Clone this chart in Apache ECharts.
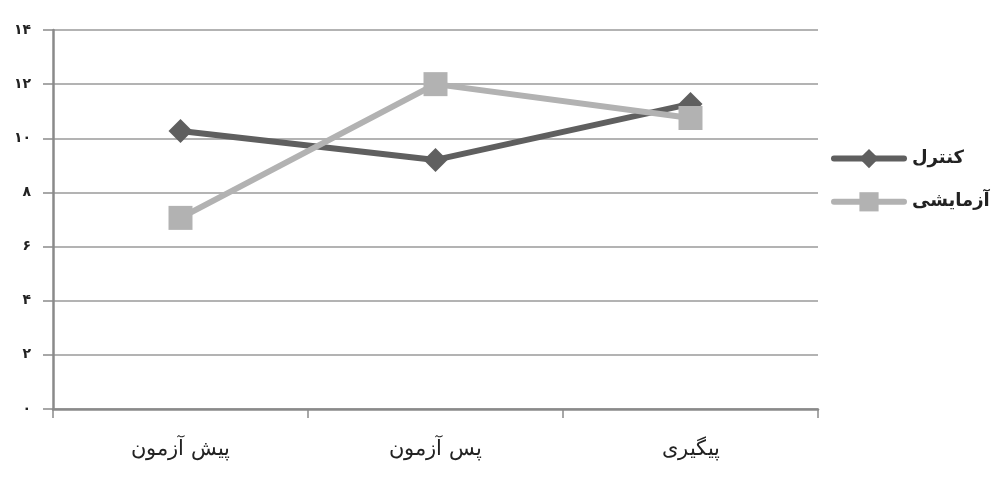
<!DOCTYPE html>
<html>
<head>
<meta charset="utf-8">
<script src="https://cdn.jsdelivr.net/npm/echarts@6/dist/echarts.min.js"></script>
<style>
  html, body { margin: 0; padding: 0; background: #fff; }
</style>
</head>
<body>
<div id="myChart1" style="width: 999px; height: 477px;"></div>
<script>
// داده‌ها
const categories = ['پیش آزمون', 'پس آزمون', 'پیگیری']
const controlValues = [10.27, 9.2, 11.27]
const experimentValues = [7.06, 12.0, 10.75]
const yTickLabels = ['۰', '۲', '۴', '۶', '۸', '۱۰', '۱۲', '۱۴']

const myChart1 = echarts.init(document.getElementById('myChart1'))
myChart1.setOption({
  backgroundColor: '#fff',
  animation: false,
  grid: {
    left: 53,
    right: 181,
    top: 30,
    bottom: 68
  },
  legend: {
    orient: 'vertical',
    left: 826,
    top: 144,
    itemWidth: 70,
    itemHeight: 24,
    itemGap: 24,
    lineStyle: { width: 6, cap: 'round' },
    textStyle: {
      fontFamily: 'DejaVu Sans',
      fontWeight: 'bold',
      fontSize: 18,
      color: '#222',
      padding: [0, 0, 0, 3]
    },
    data: ['کنترل', 'آزمایشی']
  },
  xAxis: {
    type: 'category',
    boundaryGap: true,
    data: categories,
    axisLine: { lineStyle: { color: '#8a8a8a', width: 2.5 } },
    axisTick: { show: true, alignWithLabel: false, length: 9, lineStyle: { color: '#8a8a8a', width: 1.5 } },
    axisLabel: {
      margin: 30,
      fontFamily: 'DejaVu Serif',
      fontSize: 21,
      color: '#222'
    }
  },
  yAxis: {
    type: 'value',
    min: 0,
    max: 14,
    interval: 2,
    axisLine: { show: true, lineStyle: { color: '#8a8a8a', width: 2.5 } },
    axisTick: { show: true, inside: false, length: 10, lineStyle: { color: '#8a8a8a', width: 1.5 } },
    splitLine: { lineStyle: { color: '#9a9a9a', width: 1.5 } },
    axisLabel: {
      margin: 22,
      fontFamily: 'DejaVu Sans',
      fontWeight: 'bold',
      fontSize: 14,
      color: '#222',
      formatter: function (v) { return yTickLabels[v / 2] }
    }
  },
  series: [
    {
      name: 'کنترل',
      type: 'line',
      data: controlValues,
      symbol: 'diamond',
      symbolSize: 24,
      lineStyle: { color: '#5f5f5f', width: 6 },
      itemStyle: { color: '#5f5f5f' }
    },
    {
      name: 'آزمایشی',
      type: 'line',
      data: experimentValues,
      symbol: 'rect',
      symbolSize: 24,
      lineStyle: { color: '#b2b2b2', width: 6 },
      itemStyle: { color: '#b2b2b2' }
    }
  ]
})
window.addEventListener('resize', () => { myChart1.resize() })
</script>
</body>
</html>
